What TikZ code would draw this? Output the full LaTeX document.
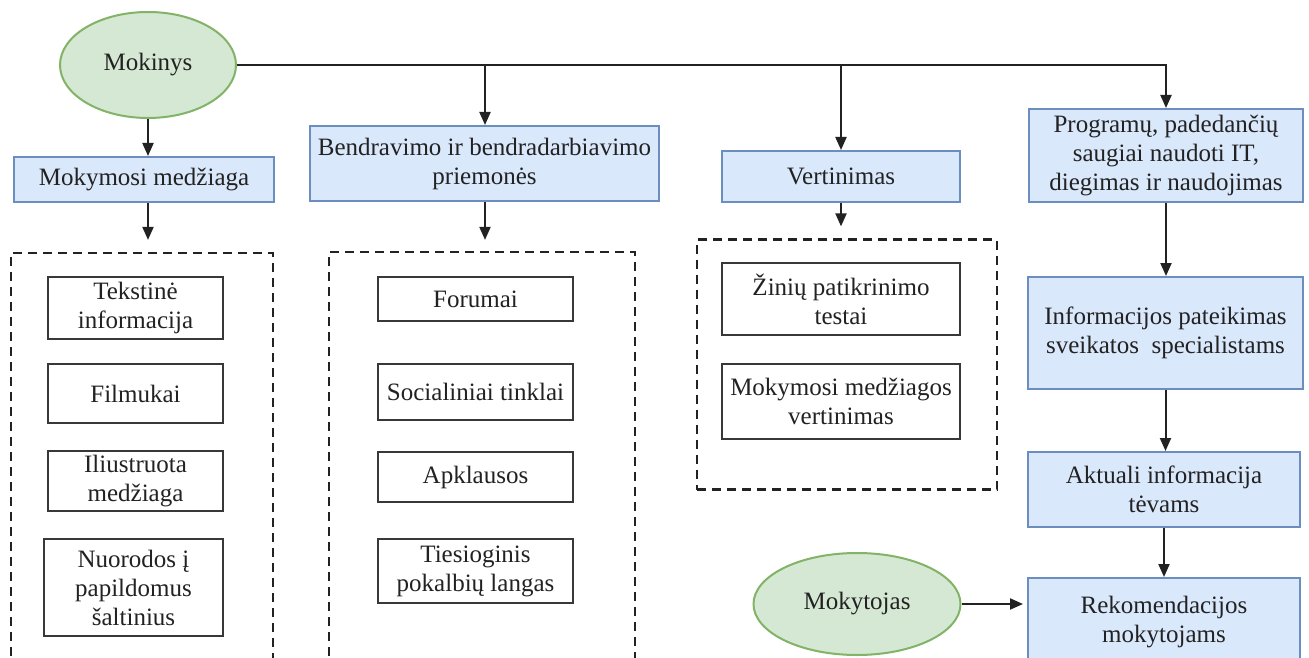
\documentclass[tikz,border=0pt]{standalone}
\usepackage{fontspec}
\setmainfont{Liberation Serif}
\usetikzlibrary{arrows.meta,shapes.geometric}
\definecolor{bluefill}{HTML}{DAE8FC}
\definecolor{blueline}{HTML}{6C8EBF}
\definecolor{greenfill}{HTML}{D5E8D4}
\definecolor{greenline}{HTML}{82B366}
\definecolor{ink}{HTML}{222222}
\tikzset{
  txt/.style={font=\fontsize{25}{29}\selectfont, text=ink, align=center, inner sep=0pt},
  bluebox/.style={txt, rectangle, draw=blueline, fill=bluefill, line width=2pt},
  itembox/.style={txt, rectangle, draw=ink!90, fill=white, line width=2.6pt},
  greenell/.style={txt, ellipse, draw=greenline, fill=greenfill, line width=2pt},
  dashbox/.style={rectangle, draw=ink, line width=2.2pt, dash pattern=on 9pt off 6pt},
  conn/.style={draw=ink, line width=2pt},
  arr/.style={conn, -{Triangle[length=13pt,width=11pt]}},
}
\begin{document}
\begin{tikzpicture}[x=1pt,y=-1pt]
\clip (0,0) rectangle (1309,658);
\fill[white] (0,0) rectangle (1309,658);

% ellipses
\node[greenell, minimum width=176pt, minimum height=106pt] (mokinys) at (148,65) {Mokinys};
\node[greenell, minimum width=207pt, minimum height=102pt] (mokytojas) at (857,604) {Mokytojas};

% blue boxes
\node[bluebox, minimum width=260pt, minimum height=45pt] (mokm) at (144,179.5) {Mokymosi medžiaga};
\node[bluebox, minimum width=349pt, minimum height=75pt] (bendr) at (484.5,163.5) {Bendravimo ir bendradarbiavimo\\priemonės};
\node[bluebox, minimum width=238pt, minimum height=51pt] (vert) at (841,176.5) {Vertinimas};
\node[bluebox, minimum width=274pt, minimum height=93pt] (prog) at (1166,155.5) {Programų, padedančių\\saugiai naudoti IT,\\diegimas ir naudojimas};
\node[bluebox, minimum width=275pt, minimum height=112pt] (info) at (1165.5,333) {Informacijos pateikimas\\sveikatos~ specialistams};
\node[bluebox, minimum width=272pt, minimum height=75pt] (akt) at (1164,489.5) {Aktuali informacija\\tėvams};
\node[bluebox, minimum width=272pt, minimum height=88pt] (rek) at (1164,622) {Rekomendacijos\\mokytojams};

% dashed groups
\node[dashbox, minimum width=262pt, minimum height=447pt] (d1) at (142,476.5) {};
\node[dashbox, minimum width=306pt, minimum height=448pt] (d2) at (482,476) {};
\node[dashbox, minimum width=300pt, minimum height=250pt] (d3) at (847,364.5) {};

% items column 1
\node[itembox, minimum width=175pt, minimum height=62pt] (t1) at (135.5,308) {Tekstinė\\informacija};
\node[itembox, minimum width=175pt, minimum height=59pt] (t2) at (135.5,393.5) {Filmukai};
\node[itembox, minimum width=175pt, minimum height=60pt] (t3) at (135.5,481) {Iliustruota\\medžiaga};
\node[itembox, minimum width=179pt, minimum height=97pt] (t4) at (133.5,587.5) {Nuorodos į\\papildomus\\šaltinius};

% items column 2
\node[itembox, minimum width=195pt, minimum height=44pt] (b1) at (475.5,299) {Forumai};
\node[itembox, minimum width=195pt, minimum height=56pt] (b2) at (475.5,392) {Socialiniai tinklai};
\node[itembox, minimum width=195pt, minimum height=50pt] (b3) at (475.5,477) {Apklausos};
\node[itembox, minimum width=195pt, minimum height=64pt] (b4) at (475.5,571) {Tiesioginis\\pokalbių langas};

% items column 3
\node[itembox, minimum width=238pt, minimum height=72pt] (v1) at (841,299) {Žinių patikrinimo\\testai};
\node[itembox, minimum width=238pt, minimum height=75pt] (v2) at (841,401.5) {Mokymosi medžiagos\\vertinimas};

% trunk and connectors
\coordinate (j2) at (485,65);
\coordinate (j3) at (841,65);
\draw[arr] (mokinys.east) -| (prog.north);
\draw[arr] (j2) -- (j2 |- bendr.north);
\draw[arr] (j3) -- (j3 |- vert.north);
\draw[arr] (mokinys.south) -- (mokinys.south |- mokm.north);
\draw[arr, shorten >=12pt] (mokinys.south |- mokm.south) -- (mokinys.south |- d1.north);
\draw[arr, shorten >=11pt] (j2 |- bendr.south) -- (j2 |- d2.north);
\draw[arr, shorten >=12pt] (j3 |- vert.south) -- (j3 |- d3.north);
\draw[arr] (prog.south) -- (prog.south |- info.north);
\draw[arr] (info.south) -- (info.south |- akt.north);
\draw[arr] (akt.south) -- (rek.north);
\draw[arr, shorten >=4pt] (mokytojas.east) -- (rek.west |- mokytojas.east);
\end{tikzpicture}
\end{document}
